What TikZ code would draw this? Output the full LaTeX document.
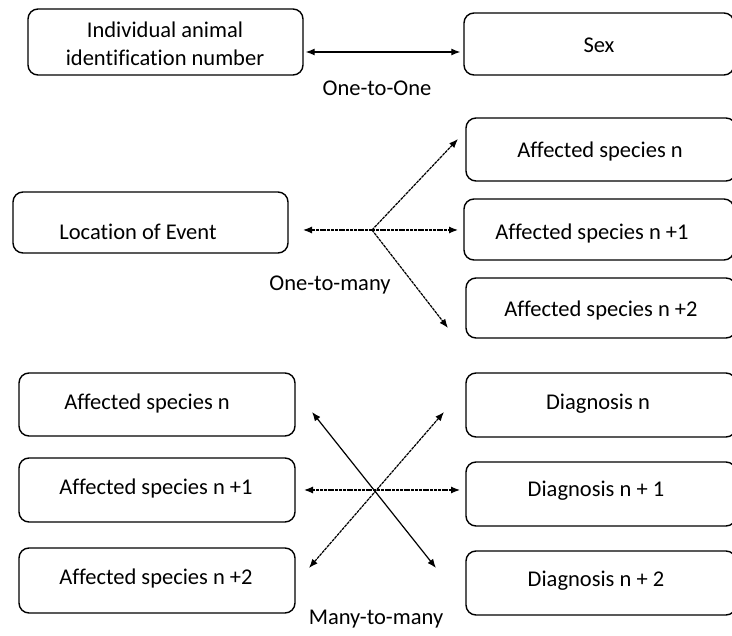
\documentclass[tikz,border=0pt]{standalone}
\usepackage{fontspec}
\setmainfont[Ligatures=NoCommon]{Carlito}
\usetikzlibrary{arrows.meta}
\begin{document}
\begin{tikzpicture}[x=1pt,y=-1pt,
  box/.style={draw, line width=1.4pt, rounded corners=10pt, inner sep=0pt},
  txt/.style={font=\fontsize{22.5}{28}\selectfont, align=center, inner sep=0pt},
  lbl/.style={font=\fontsize{22.5}{26}\selectfont, inner sep=0pt},
  conn/.style={line width=1.2pt, {Latex[length=9pt,width=7pt]}-{Latex[length=9pt,width=7pt]}},
  dconn/.style={conn, dash pattern=on 3pt off 0.8pt},
  oconn/.style={line width=1.2pt, dash pattern=on 3pt off 0.8pt, -{Latex[length=9pt,width=7pt]}}]
\useasboundingbox (0,0) rectangle (732,636);
\clip (0,0) rectangle (732,636);
% boxes
\node[box, minimum width=275pt, minimum height=66pt] (ind) at (165.5,42) {};
\node[box, minimum width=270pt, minimum height=62pt] (sex) at (599,44) {};
\node[box, minimum width=270pt, minimum height=63pt] (asn) at (601,149.5) {};
\node[box, minimum width=270pt, minimum height=61pt] (as1) at (599,229.5) {};
\node[box, minimum width=270pt, minimum height=60pt] (as2) at (601,308) {};
\node[box, minimum width=275pt, minimum height=61pt] (loc) at (150.5,222.5) {};
\node[box, minimum width=276pt, minimum height=63pt] (l1) at (157,404.5) {};
\node[box, minimum width=276pt, minimum height=64pt] (l2) at (157,490) {};
\node[box, minimum width=276pt, minimum height=65pt] (l3) at (157,580.5) {};
\node[box, minimum width=270pt, minimum height=64pt] (d1) at (601,405) {};
\node[box, minimum width=270pt, minimum height=64pt] (d2) at (601,494) {};
\node[box, minimum width=270pt, minimum height=64pt] (d3) at (601,583) {};
% texts
\node[txt] (tind) at (165,44) {Individual animal\\identification number};
\node[txt] (tsex) at (599,45) {Sex};
\node[txt] (tasn) at (600,152) {Affected species n};
\node[txt] (tas1) at (592,234) {Affected species n +1};
\node[txt] (tas2) at (601,311) {Affected species n +2};
\node[txt] (tloc) at (138,232) {Location of Event};
\node[txt] (tl1) at (147,404) {Affected species n};
\node[txt] (tl2) at (156,489) {Affected species n +1};
\node[txt] (tl3) at (156,579) {Affected species n +2};
\node[txt] (td1) at (598,404) {Diagnosis n};
\node[txt] (td2) at (596,491) {Diagnosis n + 1};
\node[txt] (td3) at (596,581) {Diagnosis n + 2};
% labels
\node[lbl] (one) at (377,88) {One-to-One};
\node[lbl] (otm) at (330,285) {One-to-many};
\node[lbl] (mtm) at (376,619) {Many-to-many};
% one-to-one
\draw[conn] (ind.east) ++(2,10) coordinate (a1) -- ([xshift=-3pt]sex.west |- a1) coordinate (a2);
% one-to-many
\coordinate (hub) at (372,230);
\coordinate (h1) at (458,139);
\coordinate (h2) at (458,230);
\coordinate (h3) at (448,328);
\coordinate (h0) at (303,230);
\draw[oconn] (hub) -- (h0);
\draw[oconn] (hub) -- (h1);
\draw[oconn] (hub) -- (h2);
\draw[oconn] (hub) -- (h3);
% many-to-many
\coordinate (ul) at (312,412);
\coordinate (ur) at (444,412);
\coordinate (dl) at (309,568);
\coordinate (dr) at (436,568);
\coordinate (ml) at (304,490);
\coordinate (mr) at (460,490);
\draw[conn] (ul) -- (dr);
\draw[dconn] (ur) -- (dl);
\draw[dconn] (ml) -- (mr);
\end{tikzpicture}
\end{document}
